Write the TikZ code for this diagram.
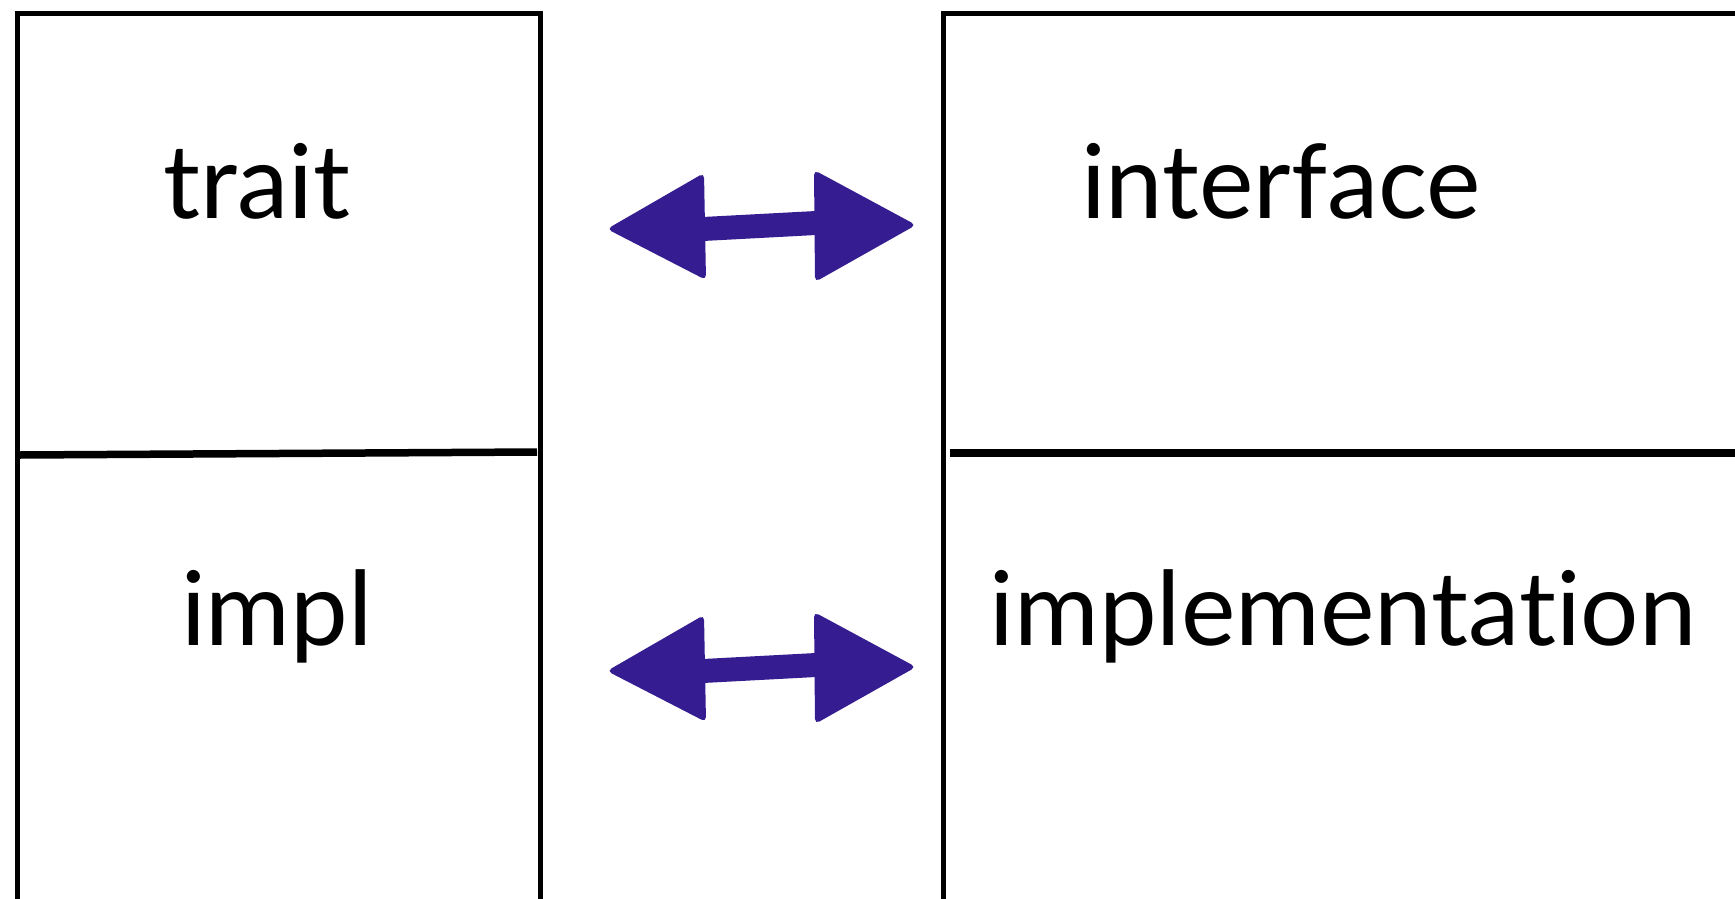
\documentclass[tikz,border=0pt]{standalone}
\usepackage{fontspec}
\setmainfont[Ligatures={NoCommon,NoRare,NoDiscretionary}]{Lato}
\usetikzlibrary{calc}
\definecolor{arrowpurple}{HTML}{351C91}
\begin{document}
\begin{tikzpicture}[x=1pt,y=-1pt,
  frame/.style={draw=black,line width=5pt},
  divider/.style={draw=black,line width=7.5pt},
  label/.style={font=\fontsize{103}{110}\selectfont,anchor=base,inner sep=0pt},
  arrowfill/.style={fill=arrowpurple,rounded corners=5pt}]
\useasboundingbox (0,0) rectangle (1735,899);
\clip (0,0) rectangle (1735,899);
\fill[white] (0,0) rectangle (1735,899);
% boxes
\draw[frame] (17,14) rectangle (540,940);
\draw[frame] (943,14) rectangle (1800,940);
% dividers
\draw[divider] (20,455) -- (537,452);
\draw[divider] (950,453) -- (1740,453);
% labels
\node[label] (trait) at (257,218) {trait};
\node[label] (iface) at (1281,218) {interface};
\node[label] (impl) at (277,645) {impl};
\node[label] (implem) at (1343,645) {implementat\kern0pt ion};
% arrows
\coordinate (a1l) at (607,229);
\coordinate (a1r) at (916,225);
\coordinate (a2l) at (607,671);
\coordinate (a2r) at (916,667);
\foreach \l/\r in {a1l/a1r,a2l/a2r}{
  \fill[arrowpurple] ($(\l)+(96,-12)$) -- ($(\r)+(-100,-14)$) -- ($(\r)+(-100,10)$) -- ($(\l)+(96,12)$) -- cycle;
  \fill[arrowfill] (\l) -- ($(\l)+(97,-56)$) -- ($(\l)+(99,51)$) -- cycle;
  \fill[arrowfill] (\r) -- ($(\r)+(-102,-55)$) -- ($(\r)+(-101,57)$) -- cycle;
}
\end{tikzpicture}
\end{document}
